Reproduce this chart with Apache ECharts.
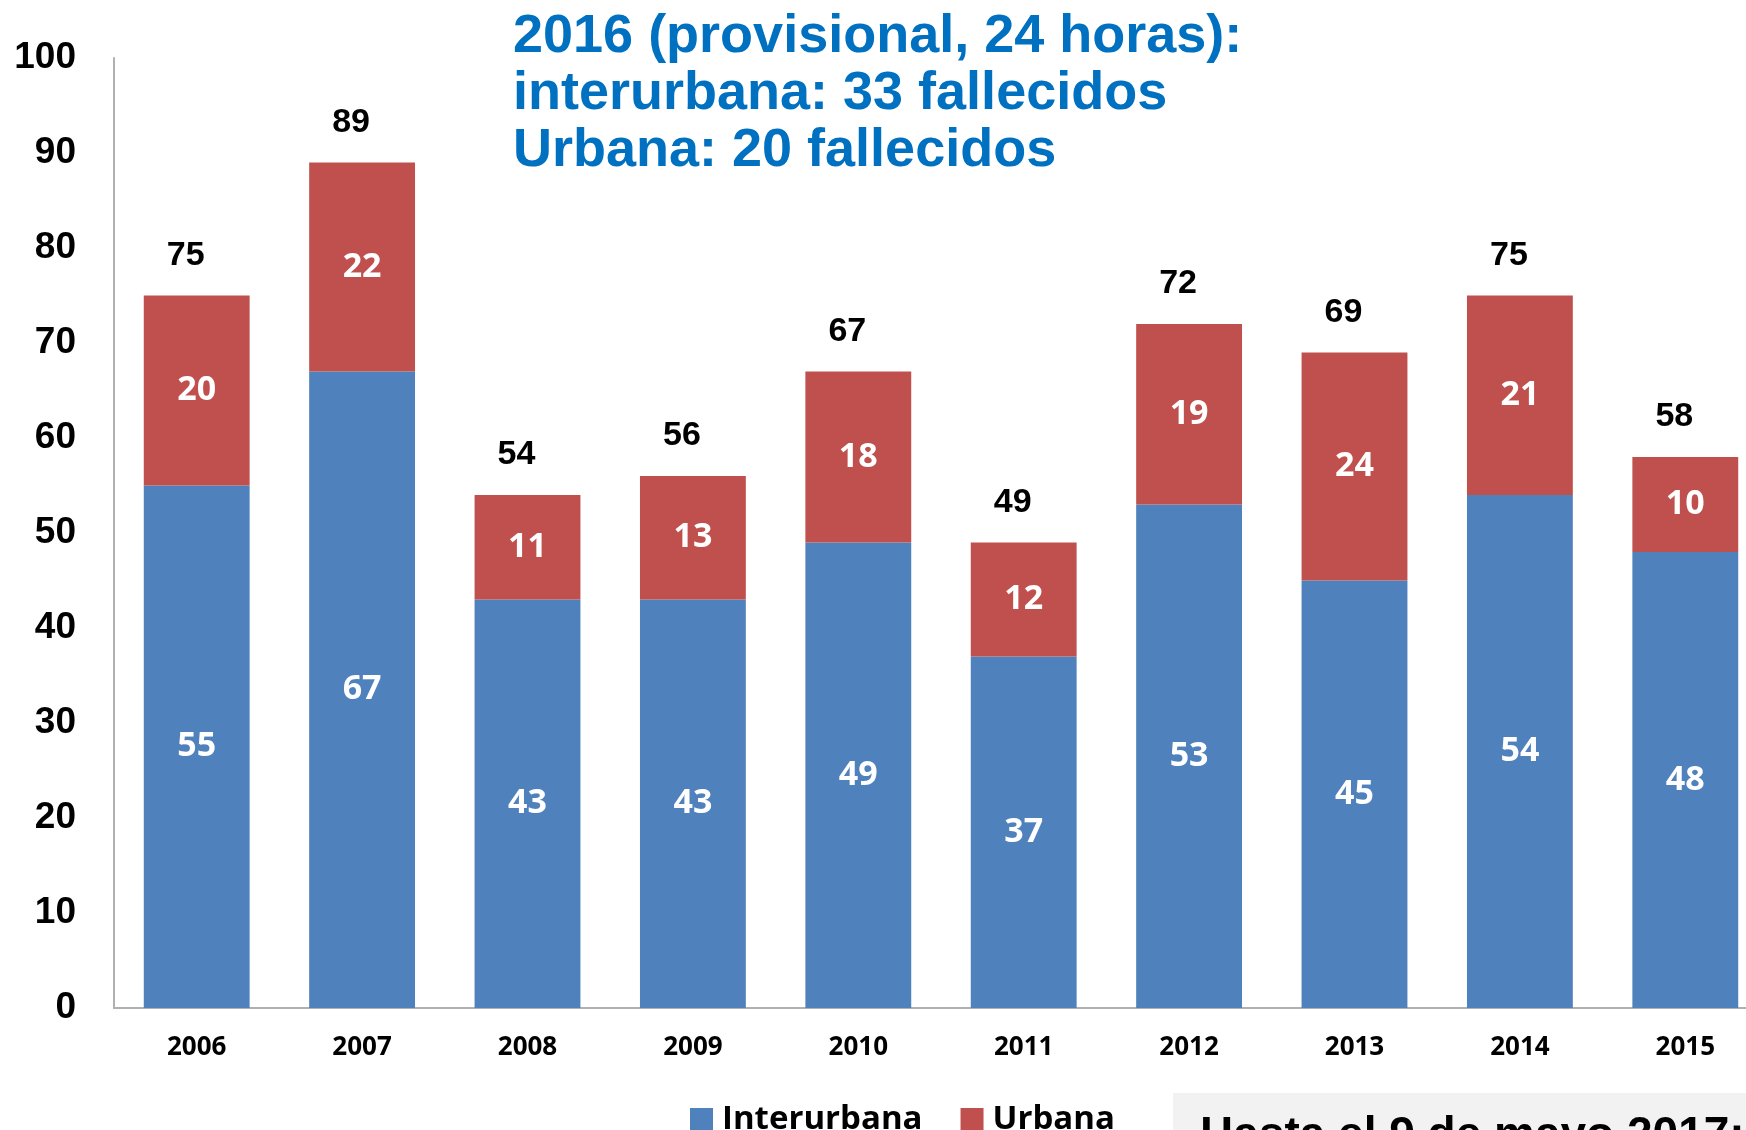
<!DOCTYPE html>
<html>
<head>
<meta charset="utf-8">
<script src="https://cdn.jsdelivr.net/npm/echarts@6/dist/echarts.min.js"></script>
<style>
  html, body { margin: 0; padding: 0; background: #fff; overflow: hidden; }
  #chart { width: 1772px; height: 1130px; }
</style>
</head>
<body>
<div id="chart"></div>
<script>
// datos
const years = ['2006', '2007', '2008', '2009', '2010', '2011', '2012', '2013', '2014', '2015'];
const interurbana = [55, 67, 43, 43, 49, 37, 53, 45, 54, 48];
const urbana = [20, 22, 11, 13, 18, 12, 19, 24, 21, 10];
const totales = [75, 89, 54, 56, 67, 49, 72, 69, 75, 58];
const titulo = [
    '2016 (provisional, 24 horas):',
    'interurbana: 33 fallecidos',
    'Urbana: 20 fallecidos'
];
const nota = 'Hasta el 9 de mayo 2017:';

// el grafico original esta recortado a la derecha: el lienzo es mas ancho que la ventana
const chart = echarts.init(document.getElementById('chart'));

const innerLabel = {
    show: true,
    position: 'inside',
    color: '#fff',
    fontFamily: 'Open Sans',
    fontWeight: 'bold',
    fontSize: 34
};

const option = {
    animation: false,
    title: {
        text: titulo.join('\n'),
        left: 508,
        top: 4,
        textStyle: {
            color: '#0070c0',
            fontFamily: 'Liberation Sans',
            fontWeight: 'bold',
            fontSize: 54,
            lineHeight: 57
        }
    },
    legend: {
        data: ['Interurbana', 'Urbana'],
        left: 685,
        top: 1098,
        icon: 'rect',
        itemWidth: 23,
        itemHeight: 23,
        itemGap: 38,
        textStyle: {
            color: '#000',
            fontFamily: 'Open Sans',
            fontWeight: 'bold',
            fontSize: 33,
            padding: [0, 0, 0, 4]
        }
    },
    grid: {
        left: 114,
        top: 58,
        width: 1654,
        height: 950
    },
    xAxis: {
        type: 'category',
        data: years,
        axisLine: { lineStyle: { color: '#b0b0b0', width: 2 } },
        axisTick: { show: false },
        axisLabel: {
            margin: 27,
            color: '#000',
            fontFamily: 'Open Sans',
            fontWeight: 'bold',
            fontSize: 26
        }
    },
    yAxis: {
        type: 'value',
        min: 0,
        max: 100,
        interval: 10,
        axisLine: { show: true, lineStyle: { color: '#b0b0b0', width: 2 } },
        axisTick: { show: false },
        splitLine: { show: false },
        axisLabel: {
            margin: 38,
            color: '#000',
            fontFamily: 'Liberation Sans',
            fontWeight: 'bold',
            fontSize: 37
        }
    },
    series: [
        {
            name: 'Interurbana',
            type: 'bar',
            stack: 'total',
            barWidth: '64%',
            data: interurbana,
            itemStyle: { color: '#4f81bd' },
            label: innerLabel
        },
        {
            name: 'Urbana',
            type: 'bar',
            stack: 'total',
            barWidth: '64%',
            data: urbana,
            itemStyle: { color: '#c0504d' },
            label: innerLabel
        },
        {
            name: 'Total',
            type: 'bar',
            barWidth: '64%',
            barGap: '-100%',
            silent: true,
            data: totales,
            itemStyle: { color: 'rgba(0,0,0,0)' },
            label: {
                show: true,
                position: 'top',
                distance: 23,
                offset: [-11, 0],
                color: '#000',
                fontFamily: 'Liberation Sans',
                fontWeight: 'bold',
                fontSize: 34
            }
        }
    ],
    graphic: [
        {
            type: 'rect',
            left: 1173,
            top: 1093,
            shape: { width: 620, height: 100 },
            style: { fill: '#f2f2f2' },
            z: 0
        },
        {
            type: 'text',
            left: 1200,
            top: 1113,
            style: {
                text: nota,
                fill: '#000',
                font: 'bold 46px "Liberation Sans"'
            },
            z: 1
        }
    ]
};

chart.setOption(option);
</script>
</body>
</html>
